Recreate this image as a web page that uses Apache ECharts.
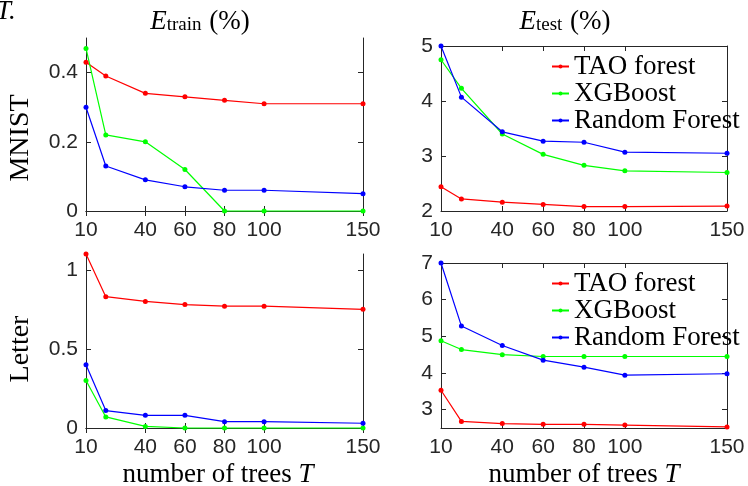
<!DOCTYPE html>
<html>
<head>
<meta charset="utf-8">
<script src="https://cdn.jsdelivr.net/npm/echarts@6/dist/echarts.min.js"></script>
<style>
  html, body { margin: 0; padding: 0; background: #fff; }
  #main { width: 748px; height: 486px; }
</style>
</head>
<body>
<div id="main"></div>
<script>
const trees = [10, 20, 40, 60, 80, 100, 150]
const xTicks = [10, 40, 60, 80, 100, 150]
const names = ['TAO forest', 'XGBoost', 'Random Forest']
const colors = ['#ff0000', '#00ff00', '#0000ff']

const mnistTrainTAO = [0.43, 0.39, 0.34, 0.33, 0.32, 0.31, 0.31]
const mnistTrainXGB = [0.47, 0.22, 0.20, 0.12, 0, 0, 0]
const mnistTrainRF = [0.30, 0.13, 0.09, 0.07, 0.06, 0.06, 0.05]

const mnistTestTAO = [2.44, 2.22, 2.16, 2.12, 2.08, 2.08, 2.09]
const mnistTestXGB = [4.75, 4.23, 3.40, 3.03, 2.83, 2.73, 2.70]
const mnistTestRF = [5.0, 4.07, 3.44, 3.27, 3.25, 3.07, 3.05]

const letterTrainTAO = [1.1, 0.83, 0.80, 0.78, 0.77, 0.77, 0.75]
const letterTrainXGB = [0.30, 0.07, 0.01, 0, 0, 0, 0]
const letterTrainRF = [0.40, 0.11, 0.08, 0.08, 0.04, 0.04, 0.03]

const letterTestTAO = [3.53, 2.68, 2.62, 2.60, 2.60, 2.58, 2.53]
const letterTestXGB = [4.88, 4.64, 4.50, 4.45, 4.45, 4.45, 4.45]
const letterTestRF = [7.0, 5.28, 4.75, 4.35, 4.16, 3.94, 3.98]

const yTicksMnistTrain = [0, 0.2, 0.4]
const yTicksMnistTest = [2, 3, 4, 5]
const yTicksLetterTrain = [0, 0.5, 1]
const yTicksLetterTest = [3, 4, 5, 6, 7]

const axisColor = '#262626'
const serifFont = 'Times New Roman'

// one panel = grid + 4 axes (MATLAB box with ticks inside)
const panels = [
    { grid: { left: 86, top: 38, width: 277, height: 173 }, yMin: 0, yMax: 0.5, yTicks: yTicksMnistTrain,
      data: [mnistTrainTAO, mnistTrainXGB, mnistTrainRF] },
    { grid: { left: 441, top: 46, width: 286, height: 165 }, yMin: 2, yMax: 5, yTicks: yTicksMnistTest,
      data: [mnistTestTAO, mnistTestXGB, mnistTestRF] },
    { grid: { left: 86, top: 254, width: 277, height: 174 }, yMin: 0, yMax: 1.1, yTicks: yTicksLetterTrain,
      data: [letterTrainTAO, letterTrainXGB, letterTrainRF] },
    { grid: { left: 441, top: 263, width: 286, height: 165 }, yMin: 2.5, yMax: 7, yTicks: yTicksLetterTest,
      data: [letterTestTAO, letterTestXGB, letterTestRF] }
]

const grid = [], xAxis = [], yAxis = [], series = []
panels.forEach((p, i) => {
    grid.push(p.grid)
    const line = { show: true, lineStyle: { color: axisColor, width: 1 } }
    ;['bottom', 'top'].forEach(pos => {
        xAxis.push({
            gridIndex: i, type: 'value', position: pos, min: 10, max: 150,
            axisLine: line,
            axisTick: { inside: true, length: 5, customValues: xTicks, lineStyle: { color: axisColor } },
            axisLabel: { show: pos === 'bottom', customValues: xTicks, fontSize: 21, fontFamily: 'Arial', color: axisColor, margin: 9 },
            splitLine: { show: false }
        })
    })
    ;['left', 'right'].forEach(pos => {
        yAxis.push({
            gridIndex: i, type: 'value', position: pos, min: p.yMin, max: p.yMax,
            axisLine: line,
            axisTick: { inside: true, length: 5, customValues: p.yTicks, lineStyle: { color: axisColor } },
            axisLabel: { show: pos === 'left', customValues: p.yTicks, fontSize: 21, fontFamily: 'Arial', color: axisColor, margin: 8 },
            splitLine: { show: false }
        })
    })
    p.data.forEach((vals, k) => {
        series.push({
            name: names[k], type: 'line',
            xAxisIndex: i * 2, yAxisIndex: i * 2,
            data: trees.map((t, j) => [t, vals[j]]),
            symbol: 'circle', symbolSize: 5, clip: false,
            lineStyle: { color: colors[k], width: 1.2 },
            itemStyle: { color: colors[k] }
        })
    })
})

const legendBase = {
    orient: 'vertical', left: 546, itemWidth: 17, itemHeight: 5, itemGap: 0,
    data: names,
    textStyle: { fontFamily: serifFont, fontSize: 27, color: '#000', lineHeight: 27 }
}

const rich = {
    e: { fontFamily: serifFont, fontStyle: 'italic', fontSize: 27, color: '#000' },
    s: { fontFamily: serifFont, fontSize: 19, color: '#000', padding: [7, 1, 0, 0] },
    p: { fontFamily: serifFont, fontSize: 27, color: '#000' }
}

function txt(x, y, text) {
    return {
        type: 'text', x: x, y: y,
        style: { text: text, rich: rich, fontFamily: serifFont, fontSize: 27, fill: '#000', align: 'center', verticalAlign: 'middle' }
    }
}

const option = {
    animation: false,
    backgroundColor: '#fff',
    grid: grid,
    xAxis: xAxis,
    yAxis: yAxis,
    series: series,
    legend: [
        Object.assign({ top: 48 }, legendBase),
        Object.assign({ top: 265 }, legendBase)
    ],
    graphic: [
        { type: 'text', x: -4, y: 12,
          style: { text: 'T.', fontFamily: serifFont, fontStyle: 'italic', fontSize: 27, fill: '#000', align: 'left', verticalAlign: 'middle' } },
        txt(200, 22, '{e|E}{s|train}{p| (%)}'),
        txt(565, 22, '{e|E}{s|test}{p| (%)}'),
        { type: 'text', x: 21, y: 138, rotation: Math.PI / 2,
          style: { text: 'MNIST', fontFamily: serifFont, fontSize: 28, fill: '#000', align: 'center', verticalAlign: 'middle' } },
        { type: 'text', x: 21, y: 349, rotation: Math.PI / 2,
          style: { text: 'Letter', fontFamily: serifFont, fontSize: 28, fill: '#000', align: 'center', verticalAlign: 'middle' } },
        txt(218, 475, '{p|number of trees }{e|T}'),
        txt(584, 475, '{p|number of trees }{e|T}')
    ]
}

const chart = echarts.init(document.getElementById('main'))
chart.setOption(option)
</script>
</body>
</html>
